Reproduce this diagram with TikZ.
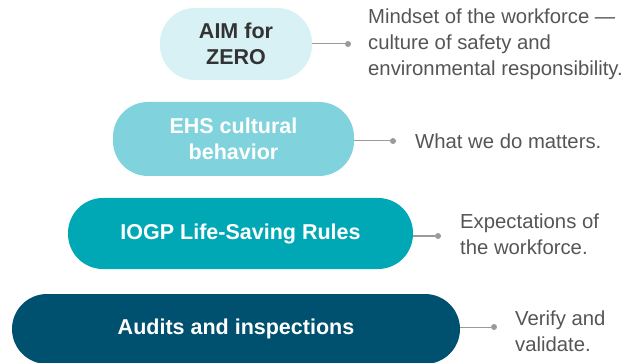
\documentclass[tikz,border=0pt]{standalone}
\usepackage{fontspec}
\setmainfont{Liberation Sans}
\definecolor{pillA}{HTML}{D7F1F4}
\definecolor{pillB}{HTML}{80D3DC}
\definecolor{pillC}{HTML}{00A8B5}
\definecolor{pillD}{HTML}{00506F}
\definecolor{darktext}{HTML}{333333}
\definecolor{greytext}{HTML}{555555}
\definecolor{linegrey}{HTML}{9A9A9A}
\tikzset{
  pill/.style={rounded corners=35pt, inner sep=0pt, align=center, font=\fontsize{21.5}{26}\selectfont\bfseries},
  desc/.style={anchor=west, align=left, text=greytext, inner sep=0pt, font=\fontsize{20.3}{26}\selectfont},
  conn/.style={draw=linegrey, line width=1pt},
  dotc/.style={circle, fill=linegrey, inner sep=0pt, minimum size=6pt},
}
\begin{document}
\begin{tikzpicture}[x=1pt,y=-1pt]
\useasboundingbox (0,0) rectangle (631,363);
\node[pill, fill=pillA, text=darktext, minimum width=152pt, minimum height=72pt] (p1) at (236,44) {AIM for\\ZERO};
\node[pill, fill=pillB, text=white, minimum width=241pt, minimum height=74pt] (p2) at (233.5,139) {EHS cultural\\behavior};
\node[pill, fill=pillC, text=white, minimum width=345pt, minimum height=71pt] (p3) at (240.5,233.5) {IOGP Life-Saving Rules};
\node[pill, fill=pillD, text=white, minimum width=448pt, minimum height=70pt] (p4) at (236,329) {Audits and inspections};
\node[dotc] (d1) at (348,44) {};
\node[dotc] (d2) at (393,141) {};
\node[dotc] (d3) at (438,236) {};
\node[dotc] (d4) at (494,327) {};
\draw[conn] (p1.east |- d1) -- (d1);
\draw[conn] (p2.east |- d2) -- (d2);
\draw[conn] (p3.east |- d3) -- (d3);
\draw[conn] (p4.east |- d4) -- (d4);
\node[desc] (t1) at (368,44) {Mindset of the workforce —\\culture of safety and\\environmental responsibility.};
\node[desc] (t2) at (415,141) {What we do matters.};
\node[desc] (t3) at (460,234) {Expectations of\\the workforce.};
\node[desc] (t4) at (515,331) {Verify and\\validate.};
\end{tikzpicture}
\end{document}
